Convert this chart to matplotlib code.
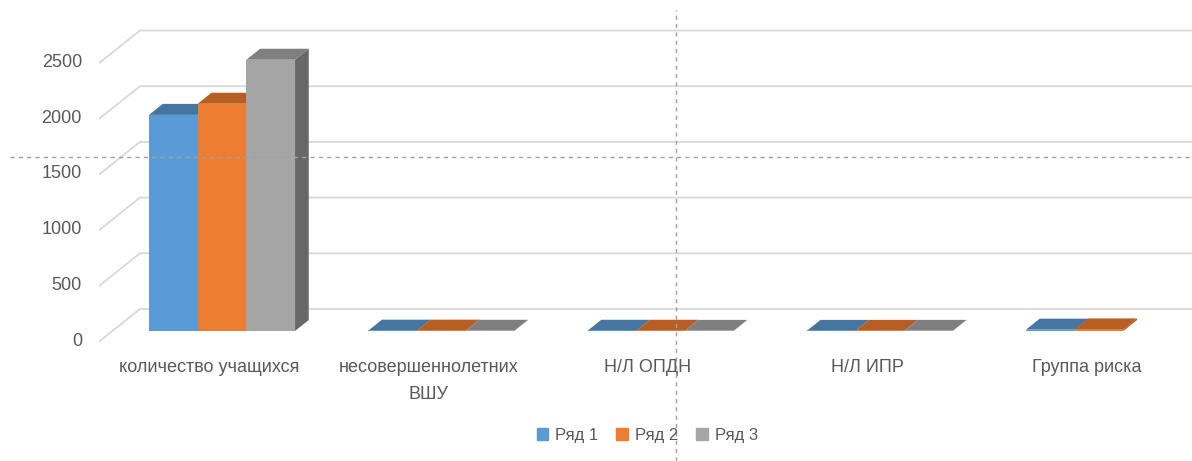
import matplotlib.pyplot as plt
import numpy as np
from matplotlib.patches import Polygon, Patch
from matplotlib.lines import Line2D

plt.rcParams['font.family'] = ['Liberation Sans', 'DejaVu Sans']

categories = ['количество учащихся', 'несовершеннолетних\nВШУ', 'Н/Л ОПДН', 'Н/Л ИПР', 'Группа риска']
series_names = ['Ряд 1', 'Ряд 2', 'Ряд 3']
row1 = [1940, 3, 2, 1, 12]
row2 = [2040, 3, 2, 1, 14]
row3 = [2435, 2, 1, 1, np.nan]
yticks = [0, 500, 1000, 1500, 2000, 2500]

front_cols = ['#5B9BD5', '#ED7D31', '#A5A5A5']
top_cols = ['#4575A1', '#B65E23', '#7F7F7F']
side_cols = ['#3E6A93', '#A85620', '#686868']
txt = '#595959'

# fake 3d: depth t goes 0 (front of floor) .. 1 (back wall)
T_FRONT = 10 / 32
T_BACK = 21 / 32
DX = 40 / 219.25          # category units per full depth
DV = 32 / (278.5 / 2500)  # value units per full depth


def P(x, v, t):
    return x + (t - T_FRONT) * DX, v + (t - T_FRONT) * DV


fig = plt.figure(figsize=(11.92, 4.61), dpi=100)
ax = fig.add_axes([112.4 / 1192, 130 / 461, 1074.3 / 1192, 278.5 / 461])
ax.set_xlim(-0.5, 4.4)
ax.set_ylim(0, 2500)
ax.axis('off')

# gridlines: left wall diagonal + back wall
for v in yticks:
    a = P(-0.5, v, 0)
    b = P(-0.5, v, 1)
    c = P(4.7, v, 1)
    ax.plot([a[0], b[0], c[0]], [a[1], b[1], c[1]], color='#D9D9D9', lw=1.3,
            clip_on=False, zorder=1)
    ax.annotate(str(v), xy=a, xytext=(-18, 0), textcoords='offset pixels',
                ha='right', va='center', fontsize=13, color=txt, annotation_clip=False)

# category labels
for i, lab in enumerate(categories):
    ax.annotate(lab, xy=P(i, 0, 0), xytext=(0, -18), textcoords='offset pixels',
                ha='center', va='top', fontsize=13, color=txt, linespacing=1.75,
                annotation_clip=False)

bw = 0.222
z = 2
for i in range(len(categories)):
    for s, vals in enumerate([row1, row2, row3]):
        h = vals[i]
        if np.isnan(h):
            continue
        x0 = i + (s - 1.5) * bw
        x1 = x0 + bw
        # right side
        side = [P(x1, 0, T_FRONT), P(x1, 0, T_BACK), P(x1, h, T_BACK), P(x1, h, T_FRONT)]
        ax.add_patch(Polygon(side, closed=True, fc=side_cols[s], ec='none', zorder=z, clip_on=False))
        # top
        top = [P(x0, h, T_FRONT), P(x1, h, T_FRONT), P(x1, h, T_BACK), P(x0, h, T_BACK)]
        ax.add_patch(Polygon(top, closed=True, fc=top_cols[s], ec='none', zorder=z + 1, clip_on=False))
        # front
        ax.bar(x0, max(h, 8), width=bw, align='edge', color=front_cols[s], zorder=z + 2, clip_on=False)
        z += 3

handles = [Patch(color=c) for c in front_cols]
fig.legend(handles, series_names, loc='center', bbox_to_anchor=(0.543, 1 - 435 / 461), ncol=3,
           frameon=False, handlelength=0.7, handleheight=0.7, handletextpad=0.4,
           columnspacing=1.1, fontsize=12, labelcolor=txt)

# screen crosshair guides visible in the source picture
fig.add_artist(Line2D([10 / 1192, 1], [1 - 157 / 461] * 2, transform=fig.transFigure,
                      color='#A0A0A0', lw=1, ls=(0, (3, 3))))
fig.add_artist(Line2D([676 / 1192] * 2, [0, 1 - 10 / 461], transform=fig.transFigure,
                      color='#A0A0A0', lw=1, ls=(0, (3, 3))))

fig.savefig('out.png', dpi=100)
